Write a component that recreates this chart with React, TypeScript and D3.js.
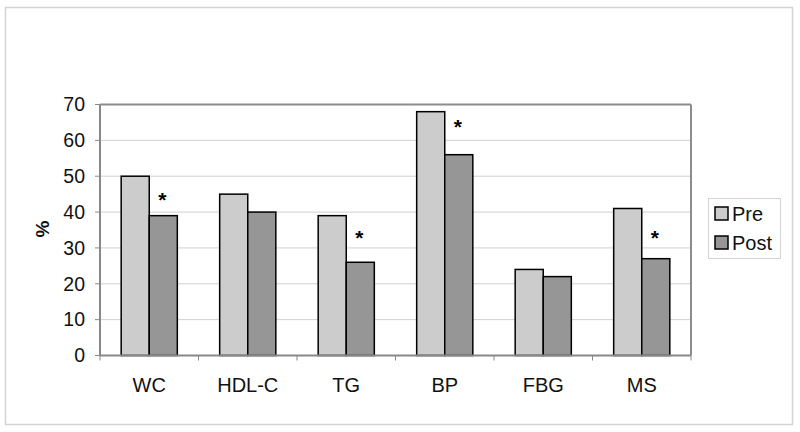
import React from "react";
import * as d3 from "d3";

const categories = ["WC", "HDL-C", "TG", "BP", "FBG", "MS"];
const preValues = [50, 45, 39, 68, 24, 41];
const postValues = [39, 40, 26, 56, 22, 27];
// height (in % units) at which the significance asterisk is drawn; null = not significant
const sigMarkValues: (number | null)[] = [44.7, null, 34.2, 65.1, null, 34.2];
const seriesNames = ["Pre", "Post"];
const yTicks = [0, 10, 20, 30, 40, 50, 60, 70];

const W = 800, H = 432;
const plot = { left: 100, right: 691, top: 104.5, bottom: 355.5 };
const colors = ["#cccccc", "#969696"];
const font = "'Liberation Sans', Arial, sans-serif";

export default function App() {
  const x = d3.scaleBand<string>().domain(categories).range([plot.left, plot.right]).paddingInner(0.43).paddingOuter(0.215);
  const xs = d3.scaleBand<string>().domain(categories).range([plot.left, plot.right]);
  const y = d3.scaleLinear().domain([0, 70]).range([plot.bottom, plot.top]);
  const sub = d3.scaleBand<number>().domain([0, 1]).range([0, x.bandwidth()]);
  const series = [preValues, postValues];
  return (
    <svg width={W} height={H} style={{ position: "absolute", left: 0, top: 0, fontFamily: font }}>
      <rect x={0} y={0} width={W} height={H} fill="#fff" />
      <rect x={5.5} y={7.5} width={787} height={417} fill="none" stroke="#d4d4d4" strokeWidth={1.5} />
      {yTicks.map(t => (
        <g key={t}>
          {t > 0 && t < 70 && <line x1={plot.left} x2={plot.right} y1={y(t)} y2={y(t)} stroke="#d0d0d0" strokeWidth={1} />}
          <line x1={plot.left - 5} x2={plot.left} y1={y(t)} y2={y(t)} stroke="#888" strokeWidth={1} />
          <text x={85} y={y(t)} dy="0.35em" textAnchor="end" fontSize={19.5} fill="#111">{t}</text>
        </g>
      ))}
      <line x1={plot.left} x2={plot.right} y1={plot.top} y2={plot.top} stroke="#8c8c8c" strokeWidth={2} />
      <line x1={plot.right} x2={plot.right} y1={plot.top} y2={plot.bottom} stroke="#8c8c8c" strokeWidth={2} />
      {series.map((vals, si) =>
        categories.map((c, i) => (
          <rect key={c + si} x={(x(c) ?? 0) + (sub(si) ?? 0)} y={y(vals[i])} width={sub.bandwidth()} height={plot.bottom - y(vals[i])}
            fill={colors[si]} stroke="#000" strokeWidth={1.5} />
        ))
      )}
      {categories.map((c, i) => sigMarkValues[i] !== null && (
        <text key={"s" + c} x={(x(c) ?? 0) + (sub(1) ?? 0) + sub.bandwidth() / 2 - 1} y={y(sigMarkValues[i] as number) + 12} textAnchor="middle" fontSize={21} fontWeight="bold" fill="#000">*</text>
      ))}
      <line x1={plot.left} x2={plot.left} y1={plot.top} y2={plot.bottom} stroke="#888" strokeWidth={2} />
      <line x1={plot.left} x2={plot.right} y1={plot.bottom} y2={plot.bottom} stroke="#888" strokeWidth={2} />
      {[...categories.map(c => xs(c) ?? 0), plot.right].map((p, i) => (
        <line key={"t" + i} x1={p} x2={p} y1={plot.bottom} y2={plot.bottom + 5} stroke="#888" strokeWidth={1} />
      ))}
      {categories.map(c => (
        <text key={"l" + c} x={(xs(c) ?? 0) + xs.bandwidth() / 2} y={392} textAnchor="middle" fontSize={20} fill="#111">{c}</text>
      ))}
      <text transform={`translate(49,229) rotate(-90)`} textAnchor="middle" fontSize={19} fontWeight="bold" fill="#111">%</text>
      <rect x={708.5} y={198.5} width={72} height={60} fill="#fff" stroke="#d4d4d4" strokeWidth={1} />
      {seriesNames.map((n, i) => (
        <g key={n}>
          <rect x={715} y={207 + i * 29} width={13} height={13} fill={colors[i]} stroke="#000" strokeWidth={1.5} />
          <text x={732} y={214 + i * 29} dy="0.35em" fontSize={20} fill="#111">{n}</text>
        </g>
      ))}
    </svg>
  );
}
